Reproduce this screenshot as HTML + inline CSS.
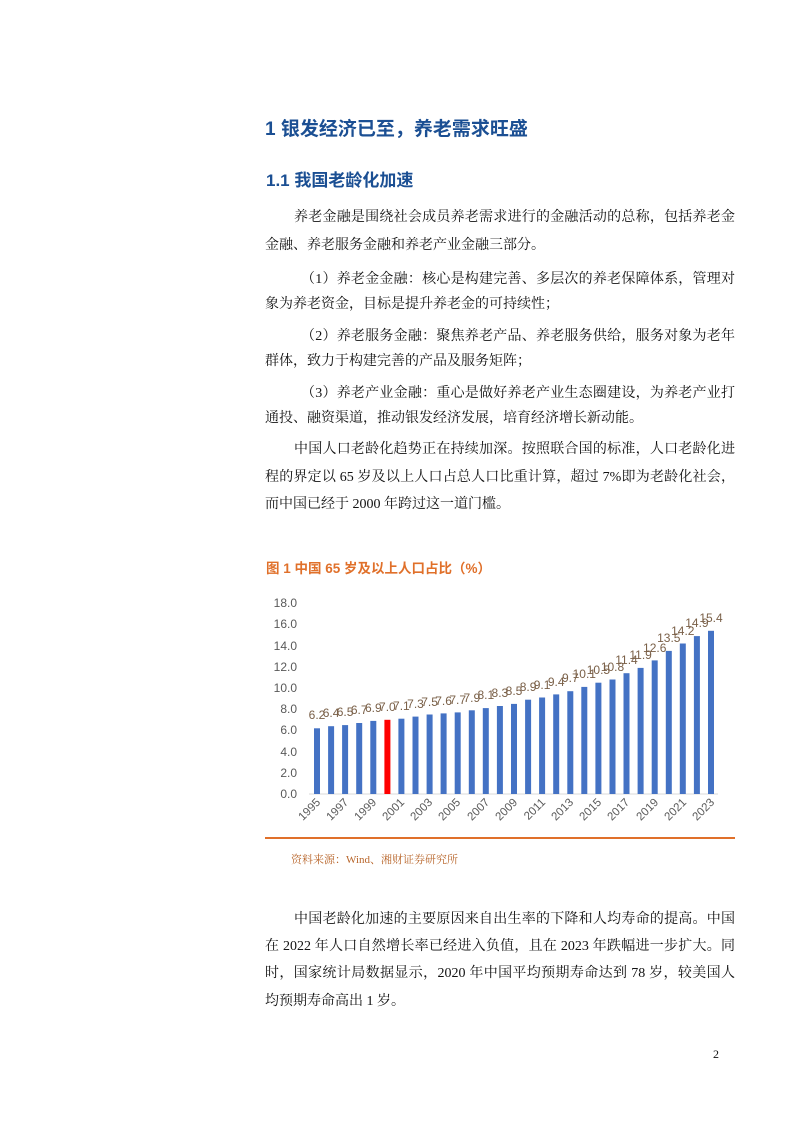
<!DOCTYPE html>
<html><head><meta charset="utf-8"><style>
body{margin:0;background:#fff;}
.pg{position:relative;width:794px;height:1123px;overflow:hidden;font-family:"Liberation Serif","Noto Serif CJK SC",serif;color:#111;}
.h{position:absolute;font-family:"Liberation Sans","Noto Sans CJK SC",sans-serif;font-weight:bold;color:#1b4f93;}
.l{position:absolute;left:265px;width:470px;font-size:14px;line-height:20px;text-align:justify;text-align-last:justify;white-space:nowrap;}
.n{text-align-last:left;}
</style></head><body><div class="pg">
<div class="h" style="left:265px;top:114px;font-size:19px;">1 银发经济已至，养老需求旺盛</div>
<div class="h" style="left:266px;top:166px;font-size:17px;">1.1 我国老龄化加速</div>
<div class="l" style="top:208px;padding-left:29px;width:441px;">养老金融是围绕社会成员养老需求进行的金融活动的总称，包括养老金</div>
<div class="l n" style="top:236px;">金融、养老服务金融和养老产业金融三部分。</div>
<div class="l" style="top:270px;padding-left:36px;width:434px;">（1）养老金金融：核心是构建完善、多层次的养老保障体系，管理对</div>
<div class="l n" style="top:295px;">象为养老资金，目标是提升养老金的可持续性；</div>
<div class="l" style="top:327px;padding-left:36px;width:434px;">（2）养老服务金融：聚焦养老产品、养老服务供给，服务对象为老年</div>
<div class="l n" style="top:352px;">群体，致力于构建完善的产品及服务矩阵；</div>
<div class="l" style="top:384px;padding-left:36px;width:434px;">（3）养老产业金融：重心是做好养老产业生态圈建设，为养老产业打</div>
<div class="l n" style="top:409px;">通投、融资渠道，推动银发经济发展，培育经济增长新动能。</div>
<div class="l" style="top:440px;padding-left:29px;width:441px;">中国人口老龄化趋势正在持续加深。按照联合国的标准，人口老龄化进</div>
<div class="l" style="top:468px;">程的界定以 65 岁及以上人口占总人口比重计算，超过 7%即为老龄化社会，</div>
<div class="l n" style="top:495px;">而中国已经于 2000 年跨过这一道门槛。</div>
<div class="h" style="left:266px;top:557px;font-size:13.5px;color:#e0702a;">图 1 中国 65 岁及以上人口占比（%）</div>
<svg style="position:absolute;left:0;top:0" width="794" height="1123" font-family="Liberation Sans,sans-serif">
<line x1="265" y1="838" x2="735" y2="838" stroke="#e0702a" stroke-width="2"/>
<g font-size="12" fill="#595959" text-anchor="end">
<text x="297" y="798">0.0</text><text x="297" y="777">2.0</text><text x="297" y="756">4.0</text><text x="297" y="734">6.0</text><text x="297" y="713">8.0</text><text x="297" y="692">10.0</text><text x="297" y="671">12.0</text><text x="297" y="650">14.0</text><text x="297" y="628">16.0</text><text x="297" y="607">18.0</text>
</g>
<line x1="309" y1="794" x2="718" y2="794" stroke="#d9d9d9"/>
<g fill="#4472c4">
<rect x="314" y="728.3" width="6" height="65.7"/><rect x="328.1" y="726.2" width="6" height="67.8"/><rect x="342.1" y="725.1" width="6" height="68.9"/><rect x="356.2" y="723" width="6" height="71"/><rect x="370.3" y="720.9" width="6" height="73.1"/><rect x="384.4" y="719.8" width="6" height="74.2" fill="#ff0000"/><rect x="398.4" y="718.7" width="6" height="75.3"/><rect x="412.5" y="716.6" width="6" height="77.4"/><rect x="426.6" y="714.5" width="6" height="79.5"/><rect x="440.6" y="713.4" width="6" height="80.6"/><rect x="454.7" y="712.4" width="6" height="81.6"/><rect x="468.8" y="710.3" width="6" height="83.7"/><rect x="482.8" y="708.1" width="6" height="85.9"/><rect x="496.9" y="706" width="6" height="88"/><rect x="511" y="703.9" width="6" height="90.1"/><rect x="525.1" y="699.7" width="6" height="94.3"/><rect x="539.1" y="697.5" width="6" height="96.5"/><rect x="553.2" y="694.4" width="6" height="99.6"/><rect x="567.3" y="691.2" width="6" height="102.8"/><rect x="581.3" y="686.9" width="6" height="107.1"/><rect x="595.4" y="682.7" width="6" height="111.3"/><rect x="609.5" y="679.5" width="6" height="114.5"/><rect x="623.5" y="673.2" width="6" height="120.8"/><rect x="637.6" y="667.9" width="6" height="126.1"/><rect x="651.7" y="660.4" width="6" height="133.6"/><rect x="665.8" y="650.9" width="6" height="143.1"/><rect x="679.8" y="643.5" width="6" height="150.5"/><rect x="693.9" y="636.1" width="6" height="157.9"/><rect x="708" y="630.8" width="6" height="163.2"/>
</g>
<g font-size="12" fill="#7a6048" text-anchor="middle">
<text x="317" y="719">6.2</text><text x="331.1" y="717">6.4</text><text x="345.1" y="716">6.5</text><text x="359.2" y="714">6.7</text><text x="373.3" y="712">6.9</text><text x="387.4" y="711">7.0</text><text x="401.4" y="710">7.1</text><text x="415.5" y="708">7.3</text><text x="429.6" y="706">7.5</text><text x="443.6" y="705">7.6</text><text x="457.7" y="704">7.7</text><text x="471.8" y="702">7.9</text><text x="485.8" y="699">8.1</text><text x="499.9" y="697">8.3</text><text x="514" y="695">8.5</text><text x="528.1" y="691">8.9</text><text x="542.1" y="689">9.1</text><text x="556.2" y="686">9.4</text><text x="570.3" y="682">9.7</text><text x="584.3" y="678">10.1</text><text x="598.4" y="674">10.5</text><text x="612.5" y="671">10.8</text><text x="626.5" y="664">11.4</text><text x="640.6" y="659">11.9</text><text x="654.7" y="652">12.6</text><text x="668.8" y="642">13.5</text><text x="682.8" y="635">14.2</text><text x="696.9" y="627">14.9</text><text x="711" y="622">15.4</text>
</g>
<g font-size="11.5" fill="#595959" text-anchor="end">
<text transform="translate(321,803) rotate(-45)">1995</text><text transform="translate(349,803) rotate(-45)">1997</text><text transform="translate(377,803) rotate(-45)">1999</text><text transform="translate(405,803) rotate(-45)">2001</text><text transform="translate(433,803) rotate(-45)">2003</text><text transform="translate(461,803) rotate(-45)">2005</text><text transform="translate(490,803) rotate(-45)">2007</text><text transform="translate(518,803) rotate(-45)">2009</text><text transform="translate(546,803) rotate(-45)">2011</text><text transform="translate(574,803) rotate(-45)">2013</text><text transform="translate(602,803) rotate(-45)">2015</text><text transform="translate(630,803) rotate(-45)">2017</text><text transform="translate(659,803) rotate(-45)">2019</text><text transform="translate(687,803) rotate(-45)">2021</text><text transform="translate(715,803) rotate(-45)">2023</text>
</g>
</svg>
<div style="position:absolute;left:291px;top:851px;font-size:11px;color:#b8652a;">资料来源：Wind、湘财证券研究所</div>
<div class="l" style="top:910px;padding-left:29px;width:441px;">中国老龄化加速的主要原因来自出生率的下降和人均寿命的提高。中国</div>
<div class="l" style="top:937px;">在 2022 年人口自然增长率已经进入负值，且在 2023 年跌幅进一步扩大。同</div>
<div class="l" style="top:964px;">时，国家统计局数据显示，2020 年中国平均预期寿命达到 78 岁，较美国人</div>
<div class="l n" style="top:992px;">均预期寿命高出 1 岁。</div>
<div style="position:absolute;left:713px;top:1047px;font-size:12px;">2</div>
</div></body></html>
